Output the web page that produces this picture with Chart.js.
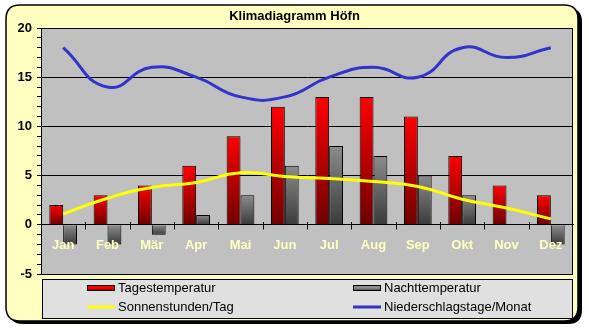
<!DOCTYPE html>
<html><head><meta charset="utf-8">
<script src="https://cdn.jsdelivr.net/npm/chart.js@4/dist/chart.umd.min.js"></script>
<style>html,body{margin:0;padding:0;background:#fff}#wrap{width:589px;height:330px;position:relative}</style>
</head><body><div id="wrap"><canvas id="c" width="589" height="330"></canvas></div>
<script>
const titleText = 'Klimadiagramm Höfn';
const months = ['Jan','Feb','Mär','Apr','Mai','Jun','Jul','Aug','Sep','Okt','Nov','Dez'];
const tagesTemp = [2,3,4,6,9,12,13,13,11,7,4,3];
const nachtTemp = [-2,-2,-1,1,3,6,8,7,5,3,0,-2];
const sonnenstunden = [1.1,2.7,3.8,4.3,5.3,4.9,4.7,4.4,3.9,2.6,1.7,0.6];
const niederschlag = [18,14,16,15,13,13,15,16,15,18,17,18];
const seriesNames = ['Tagestemperatur','Nachttemperatur','Sonnenstunden/Tag','Niederschlagstage/Monat'];
const yMin = -5, yMax = 20;

const FONT = "'Liberation Sans', Arial, sans-serif";

function barGradient(top, bottom) {
  return (ctx) => {
    const chart = ctx.chart;
    if (ctx.type !== 'data' || !chart.chartArea || !ctx.parsed) return top;
    const v = ctx.parsed.y;
    const ys = chart.scales.y;
    const y1 = ys.getPixelForValue(Math.max(v, 0));
    const y2 = ys.getPixelForValue(Math.min(v, 0));
    if (Math.abs(y2 - y1) < 1) return top;
    const g = chart.ctx.createLinearGradient(0, y1, 0, y2);
    g.addColorStop(0, top); g.addColorStop(1, bottom);
    return g;
  };
}

function roundRect(c, x, y, w, h, r) {
  c.beginPath();
  c.moveTo(x + r, y);
  c.lineTo(x + w - r, y); c.quadraticCurveTo(x + w, y, x + w, y + r);
  c.lineTo(x + w, y + h - r); c.quadraticCurveTo(x + w, y + h, x + w - r, y + h);
  c.lineTo(x + r, y + h); c.quadraticCurveTo(x, y + h, x, y + h - r);
  c.lineTo(x, y + r); c.quadraticCurveTo(x, y, x + r, y);
  c.closePath();
}

const decor = {
  id: 'decor',
  beforeDraw(chart) {
    const c = chart.ctx, a = chart.chartArea;
    c.save();
    c.fillStyle = '#ffffff'; c.fillRect(0, 0, chart.width, chart.height);
    // shadow
    c.fillStyle = '#000';
    roundRect(c, 9, 8, 573, 316, 14); c.fill();
    // frame
    roundRect(c, 6, 5, 572, 316, 14);
    c.fillStyle = '#ffffc0'; c.fill();
    c.lineWidth = 1.5; c.strokeStyle = '#000'; c.stroke();
    // plot area
    c.fillStyle = '#c0c0c0';
    c.fillRect(a.left, a.top, a.right - a.left, a.bottom - a.top);
    // title
    c.fillStyle = '#000';
    c.font = 'bold 13px ' + FONT;
    c.textAlign = 'center'; c.textBaseline = 'middle';
    c.fillText(titleText, 294.5, 16);
    // legend box
    c.fillStyle = '#e0e0e0';
    c.fillRect(42.5, 279.5, 530, 39);
    c.lineWidth = 1; c.strokeRect(42.5, 279.5, 530, 39);
    c.restore();
  },
  afterDraw(chart) {
    const c = chart.ctx, a = chart.chartArea;
    const xs = chart.scales.x, ys = chart.scales.y;
    c.save();
    // crossing tick marks on zero line
    const y0 = Math.round(ys.getPixelForValue(0)) + 0.5;
    c.strokeStyle = '#000'; c.lineWidth = 1;
    for (let i = 1; i < months.length; i++) {
      const x = Math.round((xs.getPixelForValue(i - 1) + xs.getPixelForValue(i)) / 2) + 0.5;
      c.beginPath(); c.moveTo(x, y0 - 3.5); c.lineTo(x, y0 + 4); c.stroke();
    }
    // plot border
    c.strokeRect(Math.round(a.left) + 0.5, Math.round(a.top) + 0.5, Math.round(a.right - a.left) - 1, Math.round(a.bottom - a.top));
    // legend entries
    c.font = '13px ' + FONT;
    c.textAlign = 'left'; c.textBaseline = 'middle'; c.fillStyle = '#000';
    const items = [
      {x: 87, y: 288, type: 'bar', top: '#ff0000', bot: '#6e0000', label: seriesNames[0]},
      {x: 353, y: 288, type: 'bar', top: '#8c8c8c', bot: '#3a3a3a', label: seriesNames[1]},
      {x: 87, y: 307, type: 'line', color: '#ffff00', label: seriesNames[2]},
      {x: 353, y: 307, type: 'line', color: '#3333cc', label: seriesNames[3]}
    ];
    items.forEach(it => {
      if (it.type === 'bar') {
        const g = c.createLinearGradient(0, it.y - 3, 0, it.y + 3);
        g.addColorStop(0, it.top); g.addColorStop(0.5, it.top); g.addColorStop(1, it.bot);
        c.fillStyle = g; c.fillRect(it.x, it.y - 3, 28, 6);
        c.strokeStyle = '#000'; c.lineWidth = 1; c.strokeRect(it.x + 0.5, it.y - 2.5, 27, 5);
      } else {
        c.strokeStyle = it.color; c.lineWidth = 3;
        c.beginPath(); c.moveTo(it.x, it.y); c.lineTo(it.x + 28, it.y); c.stroke();
      }
      c.fillStyle = '#000';
      c.fillText(it.label, it.x + 31, it.y + 0.5);
    });
    c.restore();
  }
};

new Chart(document.getElementById('c'), {
  data: {
    labels: months,
    datasets: [
      {type: 'bar', label: seriesNames[0], data: tagesTemp, order: 2,
       backgroundColor: barGradient('#ff0000', '#6e0000'), borderColor: '#000', borderWidth: 1,
       categoryPercentage: 0.625, barPercentage: 1},
      {type: 'bar', label: seriesNames[1], data: nachtTemp, order: 2,
       backgroundColor: barGradient('#8c8c8c', '#3a3a3a'), borderColor: '#000', borderWidth: 1,
       categoryPercentage: 0.625, barPercentage: 1},
      {type: 'line', label: seriesNames[2], data: sonnenstunden, order: 1,
       borderColor: '#ffff00', borderWidth: 3, pointRadius: 0, tension: 0.5, fill: false},
      {type: 'line', label: seriesNames[3], data: niederschlag, order: 1,
       borderColor: '#3333cc', borderWidth: 3, pointRadius: 0, tension: 0.5, fill: false}
    ]
  },
  options: {
    responsive: false, animation: false, devicePixelRatio: 1,
    layout: {padding: {top: 28, right: 16, bottom: 56, left: 0}},
    plugins: {legend: {display: false}, title: {display: false}, tooltip: {enabled: false}},
    scales: {
      x: {
        position: {y: 0},
        offset: true,
        grid: {display: false, drawTicks: false},
        border: {display: true, color: '#000', width: 1},
        ticks: {z: 1, color: '#ffffc0', font: {family: FONT, size: 13, weight: 'bold'}, padding: 13, maxRotation: 0, autoSkip: false}
      },
      y: {
        min: yMin, max: yMax,
        afterFit: (s) => { s.width = 41; },
        grid: {
          color: (ctx) => (ctx.tick && ctx.tick.value % 5 === 0) ? '#000' : 'rgba(0,0,0,0)',
          tickColor: '#000', tickLength: 4, lineWidth: 1
        },
        border: {display: true, color: '#000'},
        ticks: {stepSize: 1, autoSkip: false, padding: 5, color: '#000',
          font: {family: FONT, size: 13, weight: 'bold'},
          callback: (v) => (v % 5 === 0 ? v : '')}
      }
    }
  },
  plugins: [decor]
});
</script></body></html>
